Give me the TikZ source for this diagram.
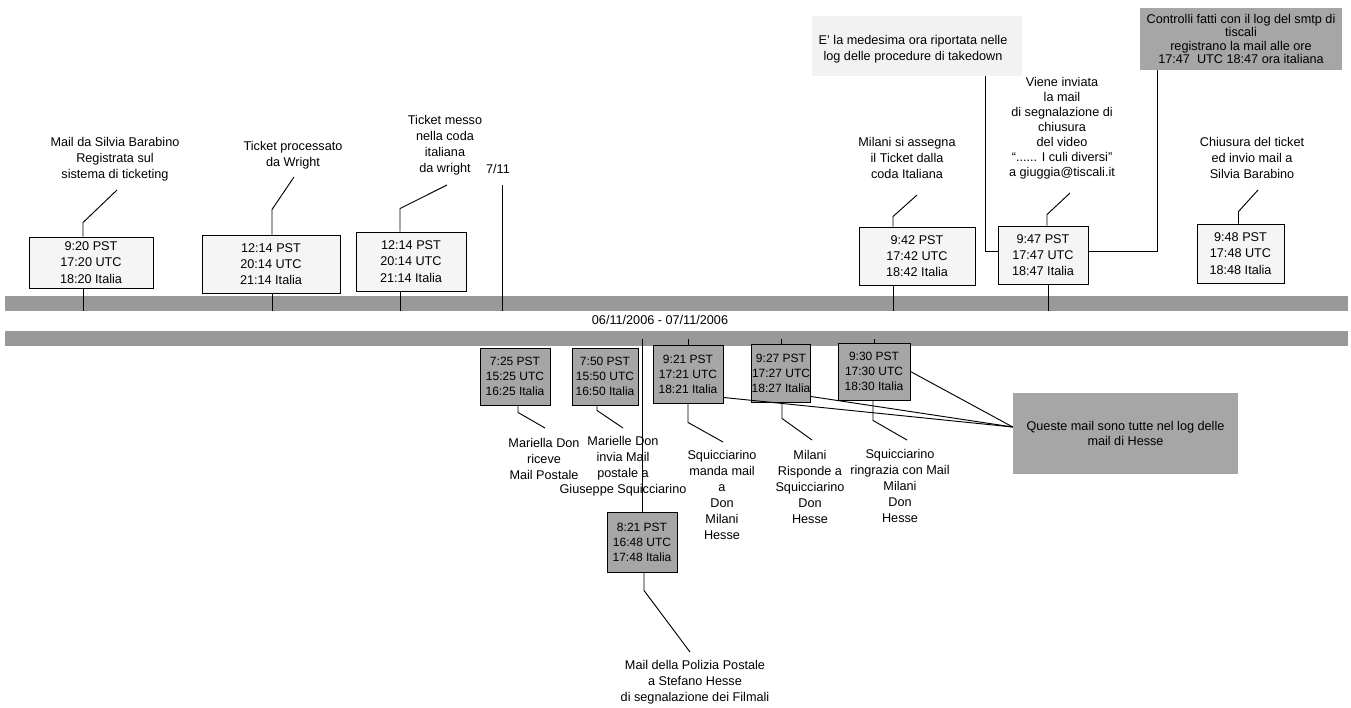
\documentclass[tikz,border=0pt]{standalone}
\usepackage{fontspec}
\setmainfont{Liberation Sans}
\usetikzlibrary{calc}
\begin{document}
\begin{tikzpicture}[x=0.75pt,y=-0.75pt,
  every node/.style={font=\fontsize{9.5}{12}\selectfont},
  lbl/.style={align=center, inner sep=0pt},
  tbox/.style={draw, line width=0.7pt, fill=black!4, align=center, inner sep=0pt, font=\fontsize{9.5}{12.2}\selectfont},
  gbox/.style={draw, line width=0.7pt, fill=black!35, align=center, inner sep=0pt, font=\fontsize{9}{11.3}\selectfont},
  note/.style={align=center, inner sep=0pt},
  band/.style={fill=black!40, inner sep=0pt, minimum width=1007.25pt, minimum height=11.25pt},
  ln/.style={line width=0.7pt}]
\useasboundingbox (0,0) rectangle (1351,707);
\fill[white] (0,0) rectangle (1351,707);

% time line bands
\node[band] (band1) at (676.5,303.5) {};
\node[band] (band2) at (676.5,338.5) {};
\node (date) at (660,320) {06/11/2006 - 07/11/2006};

% notes
\node[note, fill=black!5, minimum width=157.5pt, minimum height=45pt] (N1) at (917,46) {};
\node[lbl] (N1t) at (913,49) {E' la medesima ora riportata nelle\\log delle procedure di takedown};
\node[note, fill=black!35, minimum width=151.5pt, minimum height=46.5pt, font=\fontsize{9.5}{10.2}\selectfont] (N2) at (1241,39) {Controlli fatti con il log del smtp di\\tiscali\\registrano la mail alle ore\\17:47~~UTC 18:47 ora italiana};
\node[note, fill=black!35, minimum width=168.75pt, minimum height=60.75pt, font=\fontsize{9.5}{11.2}\selectfont] (N3) at (1125.5,433.5) {Queste mail sono tutte nel log delle\\mail di Hesse};

% top boxes
\node[tbox, minimum width=93pt, minimum height=38.25pt] (b1) at (91,262.5) {9:20 PST\\17:20 UTC\\18:20 Italia};
\node[tbox, minimum width=103.5pt, minimum height=43.5pt] (b2) at (271,264) {12:14 PST\\20:14 UTC\\21:14 Italia};
\node[tbox, minimum width=82.5pt, minimum height=44.25pt] (b3) at (411,261.5) {12:14 PST\\20:14 UTC\\21:14 Italia};
\node[tbox, minimum width=87pt, minimum height=43.5pt] (b4) at (917,256) {9:42 PST\\17:42 UTC\\18:42 Italia};
\node[tbox, minimum width=67.5pt, minimum height=43.5pt] (b5) at (1043,255) {9:47 PST\\17:47 UTC\\18:47 Italia};
\node[tbox, minimum width=65.25pt, minimum height=44.25pt] (b6) at (1240.5,253.5) {9:48 PST\\17:48 UTC\\18:48 Italia};

% top labels
\node[lbl] (L1) at (115,159) {Mail da Silvia Barabino\\Registrata sul\\sistema di ticketing};
\node[lbl] (L2) at (293,155) {Ticket processato\\da Wright};
\node[lbl] (L3) at (445,145.5) {Ticket messo\\nella coda\\italiana\\da wright};
\node[lbl] (d711) at (498,169) {7/11};
\node[lbl] (L4) at (907,158) {Milani si assegna\\il Ticket dalla\\coda Italiana};
\node[lbl, font=\fontsize{9.5}{11.2}\selectfont] (L5) at (1062,128) {Viene inviata\\la mail\\di segnalazione di\\chiusura\\del video\\“...... I culi diversi”\\a giuggia@tiscali.it};
\node[lbl] (L6) at (1252,158) {Chiusura del ticket\\ed invio mail a\\Silvia Barabino};

% top leaders
\draw[ln] ($(L1.center)+(2,31)$) -- ($(b1.north)+(-8,-14)$) -- ($(b1.north)+(-8,0)$);
\draw[ln] ($(L2.center)+(1,22)$) -- ($(b2.north)+(1,-25)$) -- ($(b2.north)+(1,0)$);
\draw[ln] ($(L3.center)+(2,39.5)$) -- ($(b3.north)+(-11,-23)$) -- ($(b3.north)+(-11,0)$);
\draw[ln] ($(L4.center)+(10,37)$) -- ($(b4.north)+(-24,-10)$) -- ($(b4.north)+(-24,0)$);
\draw[ln] ($(L5.center)+(8,65)$) -- ($(b5.north)+(4,-11)$) -- ($(b5.north)+(4,0)$);
\draw[ln] ($(L6.center)+(6,32)$) -- ($(b6.north)+(-2,-12)$) -- ($(b6.north)+(-2,0)$);

% ticks from top boxes to band
\coordinate (t1) at ($(b1.south)+(-8,0)$);
\coordinate (t2) at ($(b2.south)+(1,0)$);
\coordinate (t3) at ($(b3.south)+(-11,0)$);
\coordinate (t4) at ($(b4.south)+(-24,0)$);
\coordinate (t5) at ($(b5.south)+(5,0)$);
\coordinate (t711) at ($(d711.center)+(4,16)$);
\foreach \t in {t1,t2,t3,t4,t5,t711} \draw[ln] (\t) -- (\t |- band1.south);

% note connectors
\draw[ln] ($(N1.south)+(68,0)$) |- ($(b5.west)+(0,-4)$);
\draw[ln] ($(b5.east)+(0,-4)$) -| ($(N2.south)+(-84,0)$);

% bottom boxes
\node[gbox, minimum width=52.5pt, minimum height=42.75pt] (B1) at (515,376.5) {7:25 PST\\15:25 UTC\\16:25 Italia};
\node[gbox, minimum width=49.5pt, minimum height=42.75pt] (B2) at (605,376.5) {7:50 PST\\15:50 UTC\\16:50 Italia};
\node[gbox, minimum width=52.5pt, minimum height=43.5pt] (B3) at (688,374) {9:21 PST\\17:21 UTC\\18:21 Italia};
\node[gbox, minimum width=43.5pt, minimum height=43.5pt] (B4) at (781,373) {9:27 PST\\17:27 UTC\\18:27 Italia};
\node[gbox, minimum width=54pt, minimum height=42.75pt] (B5) at (874,371.5) {9:30 PST\\17:30 UTC\\18:30 Italia};
\node[gbox, minimum width=52.5pt, minimum height=45pt] (B6) at (642,542) {8:21 PST\\16:48 UTC\\17:48 Italia};

% ticks from band to bottom boxes
\draw[ln] ($(B1.north)+(3,0)$) -- ($(B1.north)+(3,0)$ |- band2.center);
\draw[ln] ($(B2.north)+(-8,0)$) -- ($(B2.north)+(-8,0)$ |- band2.center);
\draw[ln] (B3.north) -- (B3.north |- band2.center);
\draw[ln] (B4.north) -- (B4.north |- band2.center);
\draw[ln] (B5.north) -- (B5.north |- band2.center);
\draw[ln] (B6.north) -- (B6.north |- band2.center);

% bottom labels
\node[lbl] (LB1) at (544,458.5) {Mariella Don\\riceve\\Mail Postale};
\node[lbl] (LB2) at (623,466) {Marielle Don\\invia Mail\\postale a\\Giuseppe Squicciarino};
\node[lbl] (LB3) at (722,495) {Squicciarino\\manda mail\\a\\Don\\Milani\\Hesse};
\node[lbl] (LB4) at (810,487) {Milani\\Risponde a\\Squicciarino\\Don\\Hesse};
\node[lbl] (LB5) at (900,486) {Squicciarino\\ringrazia con Mail\\Milani\\Don\\Hesse};
\node[lbl] (LP) at (695,682.5) {Mail della Polizia Postale\\a Stefano Hesse\\di segnalazione dei Filmali};

% bottom leaders
\draw[ln] ($(B1.south)+(3,0)$) -- ++(0,7) -- ($(LB1.center)+(1,-30.5)$);
\draw[ln] ($(B2.south)+(-8,0)$) -- ++(0,5) -- ($(LB2.center)+(0,-38)$);
\draw[ln] (B3.south) -- ++(0,19) -- ($(LB3.center)+(1,-53)$);
\draw[ln] ($(B4.south)+(1,0)$) -- ++(0,16) -- ($(LB4.center)+(2,-47)$);
\draw[ln] ($(B5.south)+(-1,0)$) -- ++(0,20) -- ($(LB5.center)+(7,-46)$);
\draw[ln] ($(B6.south)+(2,0)$) -- ++(0,18) -- ($(LP.center)+(-5,-30.5)$);

% connectors to the Hesse note
\coordinate (q) at ($(N3.west)+(0,-6.5)$);
\draw[ln] ($(B3.south east)+(0,-6)$) -- (q);
\draw[ln] ($(B4.south east)+(0,-6)$) -- (q);
\draw[ln] (B5.east) -- (q);
\end{tikzpicture}
\end{document}
